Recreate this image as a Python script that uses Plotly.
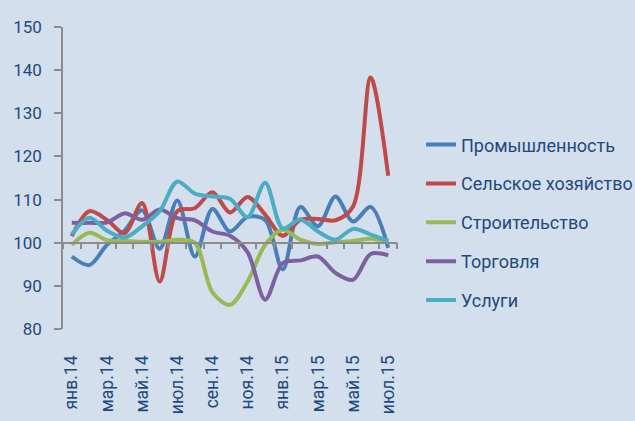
import plotly.graph_objects as go

months = ["янв.14", "фев.14", "мар.14", "апр.14", "май.14", "июн.14", "июл.14",
          "авг.14", "сен.14", "окт.14", "ноя.14", "дек.14", "янв.15", "фев.15",
          "мар.15", "апр.15", "май.15", "июн.15", "июл.15"]

industry = [96.8, 94.8, 99.5, 102.8, 107.5, 98.6, 109.8, 96.8, 107.8, 102.6,
            106.0, 105.3, 93.8, 108.3, 103.8, 110.7, 104.9, 108.3, 98.8]
agriculture = [101.5, 107.3, 105.3, 102.2, 109.2, 91.0, 107.3, 108.0, 111.7, 107.0,
               110.6, 106.5, 101.6, 105.3, 105.5, 105.2, 108.4, 138.3, 115.5]
construction = [99.5, 102.3, 100.6, 100.4, 100.2, 100.2, 100.7, 100.0, 88.5, 85.6,
                91.0, 99.5, 103.0, 100.7, 99.7, 100.1, 100.4, 100.9, 100.1]
trade = [104.6, 104.6, 104.7, 106.8, 105.3, 107.7, 105.7, 105.2, 102.6, 101.6,
         97.8, 86.8, 95.3, 95.9, 96.8, 93.0, 91.4, 97.4, 97.1]
services = [101.9, 105.8, 102.8, 101.2, 103.8, 107.3, 114.2, 111.4, 110.7, 110.2,
            105.9, 113.9, 103.3, 105.4, 102.6, 100.7, 103.2, 101.9, 100.4]

series_names = ["Промышленность", "Сельское хозяйство", "Строительство", "Торговля", "Услуги"]
series_values = [industry, agriculture, construction, trade, services]
series_colors = ["#4A7EBB", "#BE4B48", "#98B954", "#7D60A0", "#4BACC6"]

tick_labels = months[::2]
y_min, y_max, y_step = 80, 150, 10
baseline = 100

BG = "#D4DFEE"
TXT = "#1F497D"
AX = "#8C8C8C"
FONT = "Roboto"

fig = go.Figure()
for i, (name, vals, col) in enumerate(zip(series_names, series_values, series_colors)):
    fig.add_trace(go.Scatter(
        x=months, y=vals, name=name, mode="lines",
        line=dict(color=col, width=4, shape="spline", smoothing=0.9),
        legendgroup=f"g{i}",
    ))

# helper trace so the baseline axis (at y=100) is drawn
fig.add_trace(go.Scatter(x=months, y=[None] * len(months), xaxis="x2", yaxis="y",
                         showlegend=False, hoverinfo="skip", mode="lines"))

fig.update_layout(
    width=635, height=421,
    paper_bgcolor=BG, plot_bgcolor=BG,
    margin=dict(l=63, r=238, t=27, b=92, autoexpand=False),
    font=dict(family=FONT, color=TXT, size=16),
    showlegend=True,
    legend=dict(
        xref="container", yref="container",
        x=0.663, y=0.70, xanchor="left", yanchor="top",
        bgcolor="rgba(0,0,0,0)", font=dict(size=18, color=TXT, family=FONT),
        traceorder="grouped", tracegroupgap=12.5, itemwidth=30,
    ),
    xaxis=dict(
        type="category", categoryorder="array", categoryarray=months,
        range=[-0.5, len(months) - 0.5],
        tickmode="array", tickvals=tick_labels, ticktext=tick_labels,
        tickangle=-90, showline=False, showgrid=False, zeroline=False,
        ticks="", ticklabelstandoff=22,
        tickfont=dict(size=17.5, color=TXT, family=FONT),
    ),
    xaxis2=dict(
        type="category", categoryorder="array", categoryarray=months,
        range=[-0.5, len(months) - 0.5],
        overlaying="x", anchor="free",
        position=(baseline - y_min) / (y_max - y_min),
        showline=True, linecolor=AX, linewidth=1.5,
        ticks="outside", tickson="boundaries", ticklen=6, tickcolor=AX, tickwidth=1.5,
        tickmode="linear", dtick=1, showticklabels=False,
        showgrid=False, zeroline=False,
    ),
    yaxis=dict(
        range=[y_min, y_max], dtick=y_step, tick0=y_min,
        showline=True, linecolor=AX, linewidth=1.5,
        ticks="outside", ticklen=7, tickcolor=AX, tickwidth=1.5,
        showgrid=False, zeroline=False, ticklabelstandoff=9,
        tickfont=dict(size=17, color=TXT, family=FONT),
    ),
)

fig.write_html(
    "out.html",
    config={"displayModeBar": False},
    post_script="document.body.style.margin='0px';document.body.style.overflow='hidden';",
)
